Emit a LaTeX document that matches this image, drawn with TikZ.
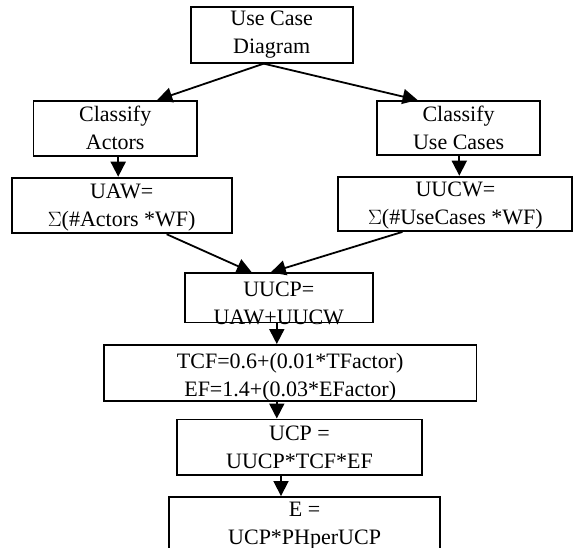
\documentclass[tikz,border=0pt]{standalone}
\usepackage{fontspec}
\setmainfont{Liberation Serif}
\usetikzlibrary{arrows.meta,calc}
\begin{document}
\begin{tikzpicture}[x=1pt,y=-1pt,
  box/.style={draw=black,line width=1.9pt,inner sep=0pt,fill=white},
  lbl/.style={align=center,inner sep=0pt,font=\fontsize{22}{28}\selectfont},
  arr/.style={line width=1.8pt,-{Triangle[length=15pt,width=15pt]}}]
\useasboundingbox[fill=white] (0,0) rectangle (574,548);
\node[box,minimum width=162pt,minimum height=55.4pt,label={[lbl]center:Use Case\\Diagram}] (uc) at (271.7,35) {};
\node[box,minimum width=163.5pt,minimum height=54.7pt,label={[lbl]center:Classify\\Actors}] (ca) at (115.2,128.3) {};
\node[box,minimum width=162.7pt,minimum height=54pt,label={[lbl]center:Classify\\Use Cases}] (cu) at (458.6,128) {};
\node[box,minimum width=220pt,minimum height=55.6pt,label={[lbl,yshift=-2pt]center:UAW=\\$\Sigma$(\#Actors *WF)}] (uaw) at (121.7,205.5) {};
\node[box,minimum width=234pt,minimum height=54.3pt,label={[lbl,yshift=-2pt]center:UUCW=\\$\Sigma$(\#UseCases *WF)}] (uucw) at (455.4,203.8) {};
\node[box,minimum width=187.7pt,minimum height=49.2pt,label={[lbl,yshift=-5pt]center:UUCP=\\UAW+UUCW}] (uucp) at (278.8,297.9) {};
\node[box,minimum width=372.5pt,minimum height=56pt,label={[lbl,yshift=-4pt]center:TCF=0.6+(0.01*TFactor)\\EF=1.4+(0.03*EFactor)}] (tcf) at (290.2,373) {};
\node[box,minimum width=245.5pt,minimum height=55.2pt,label={[lbl]center:UCP =\\UUCP*TCF*EF}] (ucp) at (299.5,447.1) {};
\node[box,minimum width=270.7pt,minimum height=51.5pt,label={[lbl,yshift=-2.5pt]center:E =\\UCP*PHperUCP}] (e) at (304.6,522.75) {};
\draw[arr] ([xshift=-8pt]uc.south) -- ([xshift=42pt]ca.north);
\draw[arr] ([xshift=-8pt]uc.south) -- ([xshift=-41pt]cu.north);
\draw[arr] ([xshift=3pt]ca.south) -- ([xshift=3pt]ca.south |- uaw.north);
\draw[arr] ([xshift=0.7pt]cu.south) -- ([xshift=0.7pt]cu.south |- uucw.north);
\draw[arr] ([xshift=45pt]uaw.south) -- ([xshift=-27pt]uucp.north);
\draw[arr] ([xshift=-53pt]uucw.south) -- ([xshift=-8pt]uucp.north);
\draw[arr] ([xshift=-2pt]uucp.south) -- ([xshift=-2pt]uucp.south |- tcf.north);
\draw[arr] ([xshift=-2pt]uucp.south |- tcf.south) -- ([xshift=-2pt]uucp.south |- ucp.north);
\draw[arr] ([xshift=-18.5pt]ucp.south) -- ([xshift=-18.5pt]ucp.south |- e.north);
\end{tikzpicture}
\end{document}
